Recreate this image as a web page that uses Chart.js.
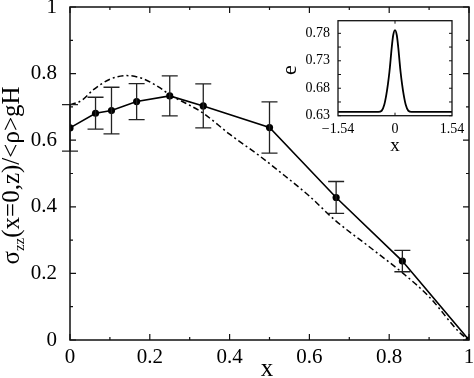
<!DOCTYPE html>
<html>
<head>
<meta charset="utf-8">
<script src="https://cdn.jsdelivr.net/npm/chart.js@4/dist/chart.umd.min.js"></script>
<style>
  html, body { margin: 0; padding: 0; background: #fff; }
  #wrap { position: relative; width: 474px; height: 378px; }
  #main { position: absolute; left: 0; top: 0; }
  #inset { position: absolute; left: 270px; top: 14px; }
</style>
</head>
<body>
<div id="wrap">
  <canvas id="main" width="474" height="378"></canvas>
  <canvas id="inset" width="200" height="145"></canvas>
</div>
<script>
// ---- main panel data ----
const simX   = [0, 0.064, 0.104, 0.167, 0.25, 0.334, 0.5, 0.667, 0.833, 1];
const simY   = [0.637, 0.681, 0.689, 0.716, 0.733, 0.703, 0.638, 0.428, 0.237, 0];
const simErr = [0.07, 0.048, 0.07, 0.054, 0.06, 0.066, 0.077, 0.048, 0.032, 0];

const theoryX = [0, 0.03, 0.058, 0.1, 0.142, 0.18, 0.226, 0.25, 0.3, 0.334, 0.4, 0.476, 0.526, 0.6, 0.664, 0.75, 0.835, 0.9, 0.977, 1];
const theoryY = [0.706, 0.72, 0.751, 0.783, 0.794, 0.786, 0.757, 0.736, 0.705, 0.681, 0.618, 0.552, 0.505, 0.432, 0.36, 0.28, 0.2, 0.13, 0.022, 0];

const mainXTicks = [0, 0.2, 0.4, 0.6, 0.8, 1];
const mainYTicks = [0, 0.2, 0.4, 0.6, 0.8, 1];
const mainMinor  = [0, 0.1, 0.2, 0.3, 0.4, 0.5, 0.6, 0.7, 0.8, 0.9, 1];

// ---- inset data ----
const insetX = [-1.54, -0.6, -0.45, -0.36, -0.29, -0.235, -0.19, -0.15, -0.12, -0.09, -0.05, 0, 0.05, 0.09, 0.12, 0.15, 0.19, 0.235, 0.29, 0.36, 0.45, 0.6, 1.54];
const insetY = [0.637, 0.637, 0.637, 0.639, 0.65, 0.668, 0.688, 0.71, 0.731, 0.753, 0.776, 0.786, 0.776, 0.753, 0.731, 0.71, 0.688, 0.668, 0.65, 0.639, 0.637, 0.637, 0.637];
const insetXTicks = [-1.54, 0, 1.54];
const insetYTicks = [0.63, 0.68, 0.73, 0.78];
const insetYMinor = [0.63, 0.655, 0.68, 0.705, 0.73, 0.755, 0.78];

const SERIF = "'Liberation Serif', 'DejaVu Serif', serif";

function pts(xs, ys) { return xs.map((x, i) => ({ x: x, y: ys[i] })); }
function fmt(v) { return v < 0 ? '\u2212' + Math.abs(v) : String(v); }

// frame + inward ticks
function framePlugin(cfg) {
  return {
    id: 'frame',
    afterDraw(chart) {
      const { ctx, chartArea: a, scales } = chart;
      ctx.save();
      ctx.strokeStyle = '#111';
      ctx.lineWidth = cfg.lw;
      ctx.strokeRect(a.left, a.top, a.right - a.left, a.bottom - a.top);
      ctx.lineWidth = cfg.tlw;
      ctx.beginPath();
      cfg.xMinor.forEach(v => {
        const px = scales.x.getPixelForValue(v);
        const len = cfg.xMajor.some(m => Math.abs(m - v) < 1e-9) ? cfg.major : cfg.minor;
        ctx.moveTo(px, a.bottom); ctx.lineTo(px, a.bottom - len);
        ctx.moveTo(px, a.top); ctx.lineTo(px, a.top + len);
      });
      cfg.yMinor.forEach(v => {
        const py = scales.y.getPixelForValue(v);
        const len = cfg.yMajor.some(m => Math.abs(m - v) < 1e-9) ? cfg.major : cfg.minor;
        ctx.moveTo(a.left, py); ctx.lineTo(a.left + len, py);
        ctx.moveTo(a.right, py); ctx.lineTo(a.right - len, py);
      });
      ctx.stroke();
      ctx.restore();
    }
  };
}

const errorBars = {
  id: 'errorBars',
  afterDatasetsDraw(chart) {
    const { ctx, scales } = chart;
    const meta = chart.getDatasetMeta(0);
    ctx.save();
    ctx.strokeStyle = '#222';
    ctx.lineWidth = 1.3;
    ctx.beginPath();
    meta.data.forEach((el, i) => {
      if (!simErr[i]) return;
      const x = el.x;
      const yt = scales.y.getPixelForValue(simY[i] + simErr[i]);
      const yb = scales.y.getPixelForValue(simY[i] - simErr[i]);
      ctx.moveTo(x, yt); ctx.lineTo(x, yb);
      ctx.moveTo(x - 8, yt); ctx.lineTo(x + 8, yt);
      ctx.moveTo(x - 8, yb); ctx.lineTo(x + 8, yb);
    });
    ctx.stroke();
    ctx.restore();
  }
};

const mainTitles = {
  id: 'mainTitles',
  afterDraw(chart) {
    const { ctx, chartArea: a } = chart;
    ctx.save();
    ctx.fillStyle = '#000';
    // x title
    ctx.font = '25px ' + SERIF;
    ctx.textAlign = 'center';
    ctx.textBaseline = 'middle';
    ctx.fillText('x', 267, 369);
    // y title with subscript
    const parts = [
      { t: '\u03C3', size: 25, dy: 0 },
      { t: 'zz', size: 15, dy: 5 },
      { t: '(x=0,z)/<\u03C1>gH', size: 25, dy: 0 }
    ];
    let total = 0;
    parts.forEach(p => { ctx.font = p.size + 'px ' + SERIF; p.w = ctx.measureText(p.t).width; total += p.w; });
    ctx.translate(19, (a.top + a.bottom) / 2 + 2);
    ctx.rotate(-Math.PI / 2);
    ctx.textAlign = 'left';
    ctx.textBaseline = 'alphabetic';
    let cx = -total / 2;
    parts.forEach(p => {
      ctx.font = p.size + 'px ' + SERIF;
      ctx.fillText(p.t, cx, p.dy);
      cx += p.w;
    });
    ctx.restore();
  }
};

new Chart(document.getElementById('main'), {
  type: 'line',
  data: {
    datasets: [
      {
        data: pts(simX, simY),
        borderColor: '#000',
        backgroundColor: '#000',
        borderWidth: 1.6,
        pointRadius: 3.6,
        pointBackgroundColor: '#000',
        pointBorderWidth: 0,
        tension: 0
      },
      {
        data: pts(theoryX, theoryY),
        borderColor: '#000',
        borderWidth: 1.5,
        borderDash: [6, 3, 2, 3],
        pointRadius: 0,
        cubicInterpolationMode: 'monotone'
      }
    ]
  },
  options: {
    responsive: false,
    animation: false,
    devicePixelRatio: 1,
    layout: { autoPadding: false, padding: { left: 0, right: 5, top: 7, bottom: 0 } },
    plugins: { legend: { display: false }, tooltip: { enabled: false } },
    scales: {
      x: {
        type: 'linear', min: 0, max: 1,
        afterBuildTicks: s => { s.ticks = mainXTicks.map(v => ({ value: v })); },
        afterFit: s => { s.height = 38; s.paddingLeft = 0; s.paddingRight = 0; },
        grid: { display: false, drawTicks: false, tickLength: 0 },
        border: { display: false },
        ticks: { color: '#000', padding: 5, maxRotation: 0, font: { family: SERIF, size: 21 }, callback: v => fmt(v) }
      },
      y: {
        type: 'linear', min: 0, max: 1,
        afterBuildTicks: s => { s.ticks = mainYTicks.map(v => ({ value: v })); },
        afterFit: s => { s.width = 70; s.paddingTop = 0; s.paddingBottom = 0; },
        grid: { display: false, drawTicks: false, tickLength: 0 },
        border: { display: false },
        ticks: { color: '#000', padding: 13, font: { family: SERIF, size: 21 }, callback: v => fmt(v) }
      }
    }
  },
  plugins: [errorBars, framePlugin({ lw: 1.5, tlw: 1.2, major: 6, minor: 3, xMinor: mainMinor, xMajor: mainXTicks, yMinor: mainMinor, yMajor: mainYTicks }), mainTitles]
});

const insetTitles = {
  id: 'insetTitles',
  afterDraw(chart) {
    const { ctx, chartArea: a } = chart;
    ctx.save();
    ctx.fillStyle = '#000';
    ctx.textAlign = 'center';
    ctx.textBaseline = 'middle';
    ctx.font = '19px ' + SERIF;
    ctx.fillText('x', (a.left + a.right) / 2, 132);
    ctx.translate(20, 56);
    ctx.rotate(-Math.PI / 2);
    ctx.font = '22px ' + SERIF;
    ctx.fillText('e', 0, 0);
    ctx.restore();
  }
};

new Chart(document.getElementById('inset'), {
  type: 'line',
  data: {
    datasets: [{
      data: pts(insetX, insetY),
      borderColor: '#000',
      borderWidth: 1.8,
      pointRadius: 0,
      cubicInterpolationMode: 'monotone'
    }]
  },
  options: {
    responsive: false,
    animation: false,
    devicePixelRatio: 1,
    layout: { autoPadding: false, padding: { left: 0, right: 18, top: 6.7, bottom: 0 } },
    plugins: { legend: { display: false }, tooltip: { enabled: false } },
    scales: {
      x: {
        type: 'linear', min: -1.54, max: 1.54,
        afterBuildTicks: s => { s.ticks = insetXTicks.map(v => ({ value: v })); },
        afterFit: s => { s.height = 43.3; s.paddingLeft = 0; s.paddingRight = 0; },
        grid: { display: false, drawTicks: false, tickLength: 0 },
        border: { display: false },
        ticks: { color: '#000', padding: 5, maxRotation: 0, font: { family: SERIF, size: 14 }, callback: v => fmt(v) }
      },
      y: {
        type: 'linear', min: 0.63, max: 0.803,
        afterBuildTicks: s => { s.ticks = insetYTicks.map(v => ({ value: v })); },
        afterFit: s => { s.width = 68; s.paddingTop = 0; s.paddingBottom = 0; },
        grid: { display: false, drawTicks: false, tickLength: 0 },
        border: { display: false },
        ticks: { color: '#000', padding: 8, font: { family: SERIF, size: 14 }, callback: v => fmt(v) }
      }
    }
  },
  plugins: [framePlugin({ lw: 1.3, tlw: 1, major: 3, minor: 3, xMinor: [0], xMajor: [0], yMinor: insetYMinor, yMajor: insetYTicks }), insetTitles]
});
</script>
</body>
</html>
